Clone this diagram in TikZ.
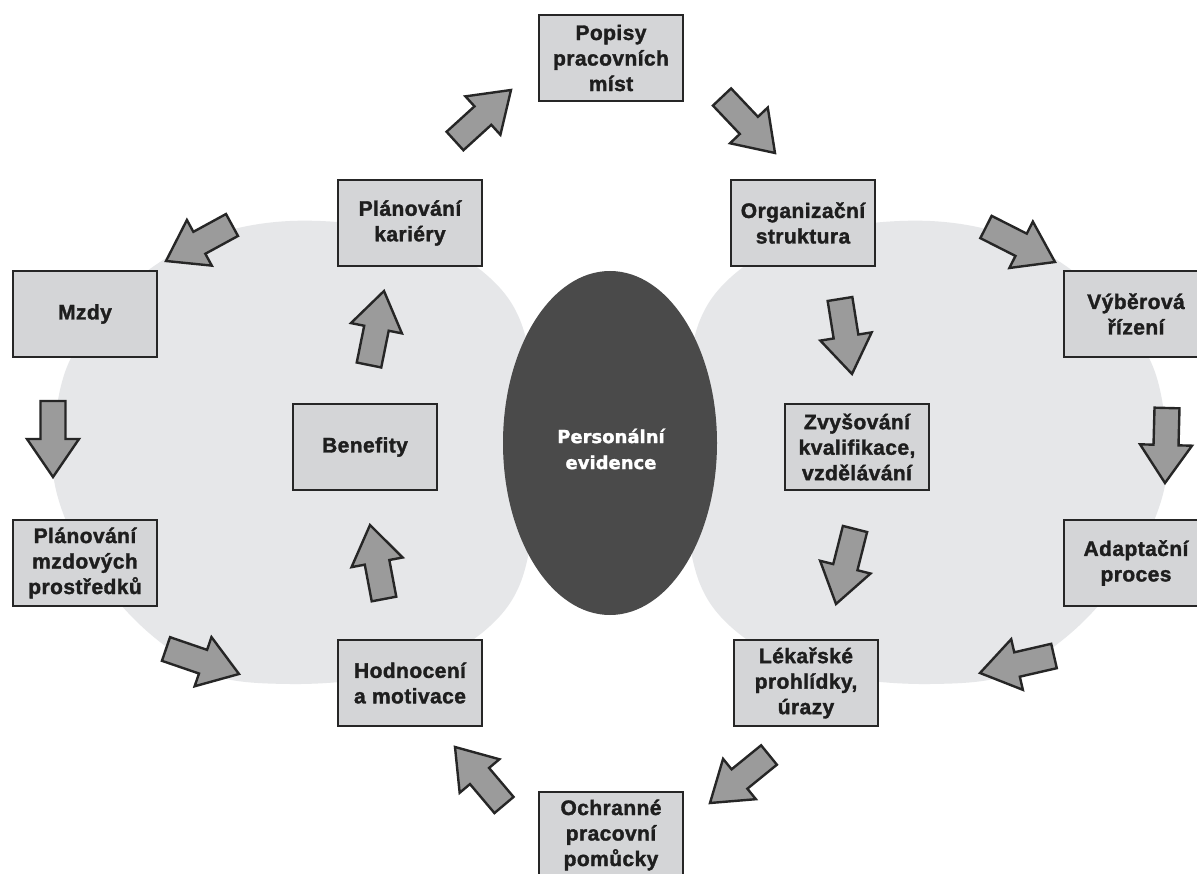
\documentclass[tikz,border=0pt]{standalone}
\usepackage{fontspec}
\setmainfont{Liberation Sans}[BoldFeatures={FakeBold=1.6,LetterSpace=2}]
\newfontfamily\evfont{DejaVu Sans}[BoldFeatures={FakeBold=1.6}]
\usetikzlibrary{calc,shapes.geometric}
\definecolor{blobgray}{HTML}{E6E7E9}
\definecolor{boxgray}{HTML}{D4D5D7}
\definecolor{boxline}{HTML}{262626}
\definecolor{arrowgray}{HTML}{9B9B9B}
\definecolor{coregray}{HTML}{4A4A4A}
\definecolor{txtdark}{HTML}{1E1E1E}
\newcommand\blockarrow[2]{%
  \coordinate (nk) at ($(#2)!38pt!(#1)$);
  \draw[flowarrow] ($(#1)!12.5pt!90:(#2)$) -- ($(nk)!12.5pt!90:(#2)$) -- ($(nk)!26pt!90:(#2)$) -- (#2)
    -- ($(nk)!26pt!-90:(#2)$) -- ($(nk)!12.5pt!-90:(#2)$) -- ($(#1)!12.5pt!-90:(#2)$) -- cycle;
}
\begin{document}
\begin{tikzpicture}[x=1pt,y=-1pt,
  stage/.style={draw=boxline, line width=2.8pt, fill=boxgray, minimum width=144pt, minimum height=86pt,
    align=center, font=\fontsize{21}{25.5}\selectfont\bfseries, text=txtdark, inner sep=0pt},
  flowarrow/.style={draw=boxline, line width=2.4pt, fill=arrowgray, line join=miter},
  blob/.style={fill=blobgray, draw=none},
]
\useasboundingbox[fill=white] (0,0) rectangle (1197,874);

% background blobs
\fill[blob] plot[smooth cycle, tension=0.6] coordinates {
  (290,221) (370,226) (440,246) (490,278) (520,320) (534,385) (537,452) (534,519) (520,584)
  (490,626) (440,658) (370,678) (290,684) (215,676) (160,642) (115,598) (75,540) (54,480)
  (55,420) (70,360) (110,305) (160,262) (220,233)};
\fill[blob] plot[smooth cycle, tension=0.6] coordinates {
  (930,221) (850,226) (780,246) (730,278) (700,320) (686,385) (683,452) (686,519) (700,584)
  (730,626) (780,658) (850,678) (930,684) (1005,676) (1060,642) (1105,598) (1145,540) (1166,480)
  (1165,420) (1150,360) (1110,305) (1060,262) (1000,233)};

% centre
\node[ellipse, fill=coregray, minimum width=214pt, minimum height=344pt, inner sep=0pt] (core) at (610,443) {};
\node[align=center, text=white, font=\evfont\fontsize{18}{26}\selectfont\bfseries, inner sep=0pt]
  (coretext) at (611,449) {Personální\\evidence};

% stages
\node[stage] (popisy) at (611,58) {Popisy\\pracovních\\míst};
\node[stage] (kariera) at (410,223) {Plánování\\kariéry};
\node[stage] (org) at (803,223) {Organizační\\struktura};
\node[stage] (mzdy) at (85,314) {Mzdy};
\node[stage] (vyber) at (1136,314) {Výběrová\\řízení};
\node[stage] (benefity) at (365,447) {Benefity};
\node[stage] (zvys) at (857,447) {Zvyšování\\kvalifikace,\\vzdělávání};
\node[stage] (planmzd) at (85,563) {Plánování\\mzdových\\prostředků};
\node[stage] (adapt) at (1136,563) {Adaptační\\proces};
\node[stage] (hodn) at (410,683) {Hodnocení\\a motivace};
\node[stage] (lekar) at (806,683) {Lékařské\\prohlídky,\\úrazy};
\node[stage] (ochr) at (611,835) {Ochranné\\pracovní\\pomůcky};

% block arrows (tail -> tip)
\foreach \i/\tx/\ty/\hx/\hy in {
  1/455/141/511/90, 2/722/97/775/153, 3/986/227/1055/262, 4/1167/408/1165/483,
  5/1054/656/980/673, 6/840/299/852/374, 7/855/529/836/604, 8/769/755/710/803,
  9/504/805/455/747, 10/384/599/370/525, 11/369/365/384/291, 12/232/225/166/261,
  13/53/401/53/477, 14/166/649/239/674} {
  \coordinate (t\i) at (\tx,\ty);
  \coordinate (h\i) at (\hx,\hy);
  \blockarrow{t\i}{h\i}
}
\end{tikzpicture}
\end{document}
